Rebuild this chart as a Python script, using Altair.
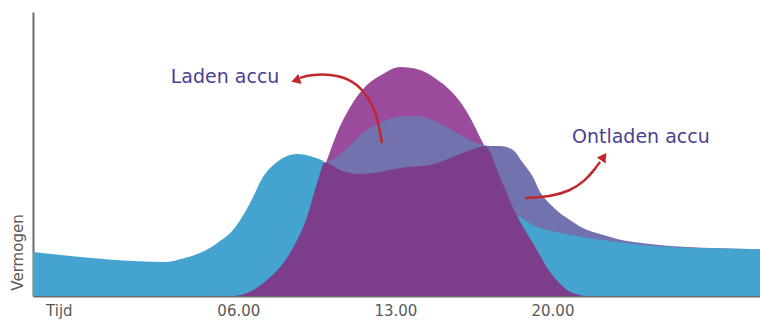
import altair as alt
import pandas as pd

# Time of day in hours (x) and relative power 0-100 (y)
grid_hours = [-3.15, 2.82, 3.53, 4.29, 5.05, 5.76, 6.52, 7.10, 7.72, 8.61,
              9.33, 9.86, 10.09, 10.53, 11.42, 14.10, 16.64, 17.88, 18.33, 19.31, 20.33,
              21.36, 22.88, 23.90, 26.57, 29.25]
grid_power = [15.5, 12.0, 13.2, 15.1, 18.6, 23.2, 32.7, 41.9, 47.2, 50.0,
              48.9, 47.0, 45.1, 42.6, 39.1, 37.0, 33.8, 29.2, 28.5, 24.3, 22.2,
              20.8, 19.0, 18.0, 16.9, 16.5]

solar_hours = [5.85, 6.52, 7.28, 8.30, 9.06, 9.51, 9.95, 10.40, 10.98, 11.73, 12.45, 13.20,
               14.10, 14.99, 15.43, 16.19, 16.90, 17.66, 18.33, 19.13, 19.89, 20.65, 21.45]
solar_power = [0.0, 1.5, 5.6, 15.1, 27.8, 39.8, 47.9, 57.4, 66.5, 74.3, 78.2, 80.6,
               79.6, 75.4, 72.5, 64.8, 53.9, 41.9, 29.6, 18.7, 8.5, 2.1, 0.0]

battery_hours = [9.86, 10.09, 10.75, 11.56, 12.31, 13.07, 13.96, 14.85, 15.75, 16.64, 17.22,
                 17.66, 18.24, 18.69, 19.13, 19.45, 19.89, 20.33, 20.78, 21.36, 22.12, 22.88,
                 24.35, 25.82, 29.25]
battery_power = [47.0, 47.5, 51.4, 57.4, 60.9, 63.0, 63.4, 61.3, 57.4, 53.9, 52.8,
                 52.8, 51.4, 46.8, 41.9, 36.6, 32.4, 29.2, 26.8, 23.9, 21.8, 20.1,
                 18.3, 17.3, 16.5]

direct_hours = [5.85, 6.52, 7.28, 8.30, 9.06, 9.51, 9.86, 10.53, 11.42, 12.31, 13.20, 14.54,
                15.75, 16.64, 16.99, 17.66, 18.33, 19.13, 19.89, 20.65, 21.45]
direct_power = [0.0, 1.5, 5.6, 15.1, 27.8, 39.8, 47.0, 44.4, 43.0, 43.7, 45.1, 46.1,
                49.6, 52.1, 52.8, 41.9, 29.6, 18.7, 8.5, 2.1, 0.0]

# Curved annotation arrows
charge_arrow_hours = [12.40, 12.27, 12.00, 11.56, 10.98, 10.09, 9.19, 8.75]
charge_arrow_power = [53.9, 60.2, 67.3, 72.5, 76.4, 78.2, 77.8, 76.8]
discharge_arrow_hours = [18.78, 19.89, 20.78, 21.45, 21.89, 22.12]
discharge_arrow_power = [34.5, 34.9, 37.0, 40.5, 44.7, 47.2]
arrow_tips_hours = [8.62, 22.25]
arrow_tips_power = [76.1, 48.6]
arrow_tips_angle = [252, 34]

label_texts = ["Laden accu", "Ontladen accu"]
label_hours = [5.41, 23.94]
label_power = [77.1, 56.0]

tick_values = [-2.0, 6, 13, 20]

X_DOMAIN = [-3.15, 29.25]
FONT = "DejaVu Sans"

x_scale = alt.Scale(domain=X_DOMAIN, nice=False, zero=False)
y_scale = alt.Scale(domain=[0, 100], nice=False)


def frame(hours, power):
    return pd.DataFrame({"uur": hours, "vermogen": power, "i": range(len(hours))})


def area(hours, power, color):
    return alt.Chart(frame(hours, power)).mark_area(
        color=color, interpolate="monotone", opacity=1
    ).encode(
        x=alt.X("uur:Q", scale=x_scale),
        y=alt.Y("vermogen:Q", scale=y_scale),
    )


x_axis = alt.Axis(
    values=tick_values,
    labelExpr="datum.value < 0 ? 'Tijd' : (datum.value < 10 ? '0' : '') + datum.value + '.00'",
    title=None, grid=False, ticks=False,
    domainColor="#6b6b6b", domainWidth=2,
    labelColor="#5a5a5a", labelFont=FONT, labelFontSize=15,
    labelPadding=7, labelFlush=False, labelOverlap=False,
)
y_axis = alt.Axis(
    title="Vermogen", labels=False, ticks=False, grid=False,
    domainColor="#6b6b6b", domainWidth=2,
    titleColor="#5a5a5a", titleFont=FONT, titleFontSize=15, titleFontWeight="normal",
    titleX=-16, titleY=240, titleAngle=-90, titleAlign="center", titleBaseline="middle",
)

solar = alt.Chart(frame(solar_hours, solar_power)).mark_area(
    color="#9a4b9c", interpolate="monotone"
).encode(
    x=alt.X("uur:Q", scale=x_scale, axis=x_axis),
    y=alt.Y("vermogen:Q", scale=y_scale, axis=y_axis),
)
battery = area(battery_hours, battery_power, "#7273ae")
grid = area(grid_hours, grid_power, "#45a4cf")
direct = area(direct_hours, direct_power, "#7c3e8b")


def arrow_line(hours, power):
    return alt.Chart(frame(hours, power)).mark_line(
        color="#c1272d", strokeWidth=2.5, interpolate="basis"
    ).encode(
        x=alt.X("uur:Q", scale=x_scale),
        y=alt.Y("vermogen:Q", scale=y_scale),
        order="i:Q",
    )


tips = alt.Chart(pd.DataFrame({
    "uur": arrow_tips_hours, "vermogen": arrow_tips_power, "hoek": arrow_tips_angle
})).mark_point(
    shape="triangle", filled=True, color="#c1272d", size=110, opacity=1
).encode(
    x=alt.X("uur:Q", scale=x_scale),
    y=alt.Y("vermogen:Q", scale=y_scale),
    angle=alt.Angle("hoek:Q", scale=None),
)

labels = alt.Chart(pd.DataFrame({
    "tekst": label_texts, "uur": label_hours, "vermogen": label_power
})).mark_text(
    font=FONT, fontSize=19, color="#4a4192", align="center", baseline="middle"
).encode(
    x=alt.X("uur:Q", scale=x_scale),
    y=alt.Y("vermogen:Q", scale=y_scale),
    text="tekst:N",
)

chart = alt.layer(
    solar, battery, grid, direct,
    arrow_line(charge_arrow_hours, charge_arrow_power),
    arrow_line(discharge_arrow_hours, discharge_arrow_power),
    tips, labels,
).properties(
    width=727, height=284,
    autosize=alt.AutoSizeParams(type="none"),
    padding={"left": 33, "top": 12, "right": 0, "bottom": 25},
    background="white",
).configure_view(stroke=None)

chart.save("out.html", embed_options={"renderer": "svg", "actions": False})
